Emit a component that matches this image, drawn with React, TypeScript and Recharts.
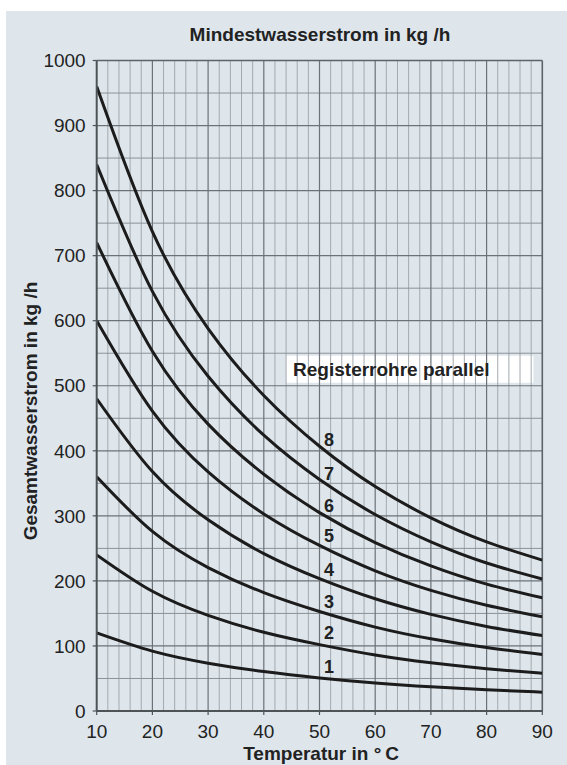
import React from 'react';
import {
  ComposedChart,
  Line,
  XAxis,
  YAxis,
  ReferenceLine,
  ReferenceArea,
  Scatter,
} from 'recharts';

// Temperatur in °C
const temperatures = [10, 20, 30, 40, 50, 60, 70, 80, 90];

// Gesamtwasserstrom in kg/h per number of parallel register tubes
const rohre1 = [120, 92, 73.5, 60.6, 50.9, 43.1, 37.1, 32.5, 29];
const rohre2 = [240, 184, 147, 121, 102, 86, 74, 65, 58];
const rohre3 = [360, 276, 220.5, 182, 153, 129, 111, 97.5, 87];
const rohre4 = [480, 368, 294, 242, 203.5, 172.5, 148.5, 130, 116];
const rohre5 = [600, 461, 367.5, 303, 254.5, 215.5, 185.5, 162.5, 145];
const rohre6 = [720, 553, 441, 364, 305, 259, 223, 195, 174];
const rohre7 = [840, 645, 514.5, 424, 356, 302, 260, 227.5, 203];
const rohre8 = [960, 737, 588, 485, 407, 345, 297, 260, 232];

const xTicks = [10, 20, 30, 40, 50, 60, 70, 80, 90];
const yTicks = [0, 100, 200, 300, 400, 500, 600, 700, 800, 900, 1000];

const majorXLines = [20, 30, 40, 50, 60, 70, 80];
const minorXLines = [
  12, 14, 16, 18, 22, 24, 26, 28, 32, 34, 36, 38, 42, 44, 46, 48, 52, 54, 56, 58,
  62, 64, 66, 68, 72, 74, 76, 78, 82, 84, 86, 88,
];
const majorYLines = [100, 200, 300, 400, 500, 600, 700, 800, 900];
const minorYLines = [50, 150, 250, 350, 450, 550, 650, 750, 850, 950];

const curveLabels = ['1', '2', '3', '4', '5', '6', '7', '8'];
const curveLabelT = 51.7;
const curveLabelValues = [67.6, 120, 167.6, 216.8, 269, 315.6, 364, 416.6];

const legendText = 'Registerrohre parallel';
const legendT = [44, 88.4];
const legendV = [504.7, 546.2];

const series = [rohre1, rohre2, rohre3, rohre4, rohre5, rohre6, rohre7, rohre8];
const data = temperatures.map((t, i) => {
  const row: Record<string, number> = { t };
  series.forEach((s, k) => {
    row['r' + (k + 1)] = s[i];
  });
  return row;
});
const labelData = curveLabels.map((s, i) => ({ t: curveLabelT, v: curveLabelValues[i], s }));

const FONT = '"Liberation Sans", Arial, Helvetica, sans-serif';
const BG = '#dee6ec';
const LINE = '#1c1c1c';

const LabelShape = (props: any) => {
  const { cx, cy, payload } = props;
  return (
    <text
      x={cx}
      y={cy}
      textAnchor="middle"
      dominantBaseline="central"
      fontFamily={FONT}
      fontWeight="bold"
      fontSize={18}
      fill="#222"
    >
      {payload.s}
    </text>
  );
};

export default function App() {
  return (
    <div
      style={{
        position: 'absolute',
        left: 0,
        top: 0,
        width: 567,
        height: 765,
        background: '#ffffff',
        overflow: 'hidden',
        fontFamily: FONT,
      }}
    >
      <div
        style={{
          position: 'absolute',
          left: 6,
          top: 11,
          width: 561,
          height: 754,
          background: BG,
        }}
      />
      <div
        style={{
          position: 'absolute',
          left: 0,
          top: 25,
          width: 640,
          textAlign: 'center',
          fontSize: 19,
          lineHeight: '19px',
          fontWeight: 'bold',
          color: '#222',
          whiteSpace: 'nowrap',
        }}
      >
        Mindestwasserstrom in kg /h
      </div>
      <div
        style={{
          position: 'absolute',
          left: 30.7 - 160,
          top: 410.5 - 12,
          width: 320,
          height: 24,
          lineHeight: '24px',
          textAlign: 'center',
          fontSize: 19,
          fontWeight: 'bold',
          color: '#222',
          transform: 'rotate(-90deg)',
          transformOrigin: '50% 50%',
          whiteSpace: 'nowrap',
        }}
      >
        Gesamtwasserstrom in kg /h
      </div>
      <div
        style={{
          position: 'absolute',
          left: 21,
          top: 743,
          width: 600,
          height: 22,
          lineHeight: '22px',
          textAlign: 'center',
          fontSize: 19,
          fontWeight: 'bold',
          color: '#222',
          whiteSpace: 'nowrap',
        }}
      >
        Temperatur in °{'\u2009'}C
      </div>
      <div style={{ position: 'absolute', left: 0, top: 0 }}>
        <ComposedChart
          width={567}
          height={765}
          data={data}
          margin={{ top: 60.5, right: 24.7, bottom: 24, left: 36.7 }}
        >
          <XAxis
            type="number"
            dataKey="t"
            domain={[10, 90]}
            ticks={xTicks}
            allowDataOverflow
            height={30}
            axisLine={{ stroke: '#4d5357', strokeWidth: 2 }}
            tickLine={{ stroke: '#4d5357', strokeWidth: 1.2 }}
            tickSize={4}
            tickMargin={10}
            tick={{ fill: '#222', fontSize: 19, fontFamily: FONT }}
          />
          <YAxis
            type="number"
            domain={[0, 1000]}
            ticks={yTicks}
            allowDataOverflow
            width={60}
            axisLine={{ stroke: '#4d5357', strokeWidth: 2 }}
            tickLine={{ stroke: '#4d5357', strokeWidth: 1.2 }}
            tickSize={4}
            tickMargin={7}
            tick={{ fill: '#222', fontSize: 19, fontFamily: FONT }}
          />
          {minorXLines.map((x) => (
            <ReferenceLine key={'mx' + x} x={x} stroke="#a3aaaf" strokeWidth={1} />
          ))}
          {minorYLines.map((y) => (
            <ReferenceLine key={'my' + y} y={y} stroke="#8b9297" strokeWidth={1} />
          ))}
          {majorXLines.map((x) => (
            <ReferenceLine key={'Mx' + x} x={x} stroke="#6c7277" strokeWidth={1.2} />
          ))}
          {majorYLines.map((y) => (
            <ReferenceLine key={'My' + y} y={y} stroke="#6c7277" strokeWidth={1.2} />
          ))}
          <ReferenceLine x={90} stroke="#5d6368" strokeWidth={1.6} />
          <ReferenceLine y={1000} stroke="#5d6368" strokeWidth={1.6} />
          <ReferenceArea
            x1={legendT[0]}
            x2={legendT[1]}
            y1={legendV[0]}
            y2={legendV[1]}
            fill="#ffffff"
            fillOpacity={1}
            stroke="none"
            label={{
              value: legendText,
              position: 'insideLeft',
              offset: 7,
              fontSize: 19,
              fontWeight: 'bold',
              fontFamily: FONT,
              fill: '#222',
            }}
          />
          {series.map((_, k) => (
            <Line
              key={'r' + (k + 1)}
              dataKey={'r' + (k + 1)}
              type="natural"
              stroke={LINE}
              strokeWidth={3}
              dot={false}
              activeDot={false}
              isAnimationActive={false}
            />
          ))}
          <Scatter
            data={labelData}
            dataKey="v"
            shape={<LabelShape />}
            isAnimationActive={false}
          />
        </ComposedChart>
      </div>
    </div>
  );
}
